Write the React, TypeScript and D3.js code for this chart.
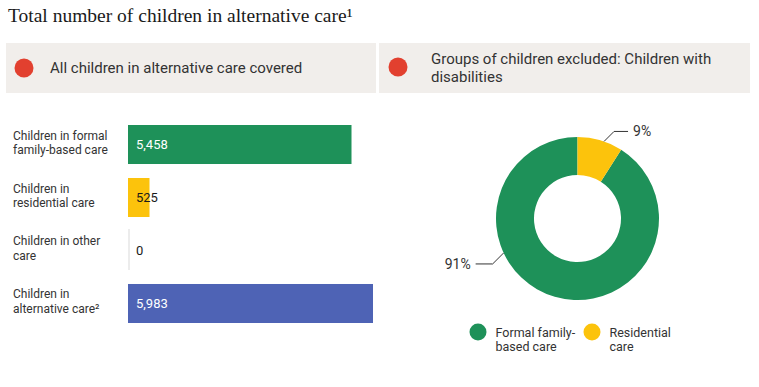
import React from "react";
import * as d3 from "d3";

const titleText = "Total number of children in alternative care¹";
const headerLeft = ["All children in alternative care covered"];
const headerRight = ["Groups of children excluded: Children with", "disabilities"];

const categories = [
  ["Children in formal", "family-based care"],
  ["Children in", "residential care"],
  ["Children in other", "care"],
  ["Children in", "alternative care²"],
];
const barValues = [5458, 525, 0, 5983];
const barValueLabels = ["5,458", "525", "0", "5,983"];

const donutShares = [91, 9];
const donutShareLabels = ["91%", "9%"];
const legendLines = [
  ["Formal family-", "based care"],
  ["Residential", "care"],
];

const GREEN = "#1e9159";
const YELLOW = "#fcc30c";
const BLUE = "#4e63b5";
const RED = "#e2402f";
const BOX = "#f1eeeb";
const TEXT = "#333333";
const barColors = [GREEN, YELLOW, "#d9d9d9", BLUE];
const valueTextColors = ["#ffffff", "#1a1a1a", "#1a1a1a", "#ffffff"];
const donutColors = [GREEN, YELLOW];

const SANS = "Roboto, 'Liberation Sans', Arial, sans-serif";
const SERIF = "'Liberation Serif', 'DejaVu Serif', serif";

export default function App() {
  const W = 759;
  const H = 387;

  const x = d3.scaleLinear().domain([0, d3.max(barValues) as number]).range([128, 373]);
  const y = d3
    .scaleBand<number>()
    .domain(barValues.map((_, i) => i))
    .range([125, 323])
    .paddingInner(0.264)
    .paddingOuter(0);

  const cx = 577.5;
  const cy = 218.5;
  const rOuter = 81.5;
  const rInner = 43.5;
  const pie = d3
    .pie<number>()
    .sort(null)
    .value((d) => d)
    .startAngle((2 * Math.PI * donutShares[1]) / 100)
    .endAngle(2 * Math.PI + (2 * Math.PI * donutShares[1]) / 100);
  const arcs = pie(donutShares);
  const arc = d3.arc<d3.PieArcDatum<number>>().innerRadius(rInner).outerRadius(rOuter);

  // leader label geometry (angle in radians, clockwise from top)
  const leaders = [
    { angle: (245 * Math.PI) / 180, dx: -11, dy: 11, run: -17, anchor: "end" },
    { angle: (19 * Math.PI) / 180 as number | null, dx: 10, dy: -10, run: 14, anchor: "start" },
  ];

  return (
    <svg
      width={W}
      height={H}
      viewBox={`0 0 ${W} ${H}`}
      style={{ position: "absolute", left: 0, top: 0, background: "#fff" }}
    >
      <rect x={0} y={0} width={W} height={H} fill="#fff" />
      {/* Title */}
      <text x={8} y={22} fontFamily={SERIF} fontSize={19.5} fill="#1a1a1a">
        {titleText}
      </text>

      {/* Header boxes */}
      <rect x={6} y={43} width={370} height={50} fill={BOX} />
      <rect x={379} y={43} width={371} height={50} fill={BOX} />
      <circle cx={24} cy={68} r={9.5} fill={RED} />
      <circle cx={398} cy={67} r={9.5} fill={RED} />
      {headerLeft.map((t, i) => (
        <text key={i} x={50} y={72.5} fontFamily={SANS} fontSize={15} fill={TEXT}>
          {t}
        </text>
      ))}
      {headerRight.map((t, i) => (
        <text key={i} x={431} y={64 + i * 17.5} fontFamily={SANS} fontSize={15} fill={TEXT}>
          {t}
        </text>
      ))}

      {/* Bars */}
      {barValues.map((v, i) => {
        const top = y(i) as number;
        const bw = y.bandwidth();
        const c = top + bw / 2;
        return (
          <g key={i}>
            {categories[i].map((line, j) => (
              <text
                key={j}
                x={13}
                y={c - 5 + j * 14.5}
                fontFamily={SANS}
                fontSize={12}
                fill={TEXT}
              >
                {line}
              </text>
            ))}
            {v > 0 ? (
              <rect x={x(0)} y={top} width={x(v) - x(0)} height={bw} fill={barColors[i]} />
            ) : (
              <line
                x1={x(0) + 1}
                x2={x(0) + 1}
                y1={top - 2}
                y2={top + bw}
                stroke={barColors[i]}
                strokeWidth={1}
              />
            )}
            <text
              x={x(0) + 8}
              y={c + 4.5}
              fontFamily={SANS}
              fontSize={13}
              fill={valueTextColors[i]}
            >
              {barValueLabels[i]}
            </text>
          </g>
        );
      })}

      {/* Donut */}
      <g transform={`translate(${cx},${cy})`}>
        {arcs.map((a, i) => (
          <path key={i} d={arc(a) as string} fill={donutColors[i]} />
        ))}
        {arcs.map((a, i) => {
          const L = leaders[i];
          const ang = L.angle !== null ? L.angle : (a.startAngle + a.endAngle) / 2;
          const px = Math.sin(ang) * rOuter;
          const py = -Math.cos(ang) * rOuter;
          const ex = px + L.dx;
          const ey = py + L.dy;
          const hx = ex + L.run;
          const tx = L.anchor === "end" ? hx - 5 : hx + 5;
          return (
            <g key={`l${i}`}>
              <polyline
                points={`${px},${py} ${ex},${ey} ${hx},${ey}`}
                fill="none"
                stroke="#333"
                strokeWidth={1}
              />
              <text
                x={tx}
                y={ey + 5}
                textAnchor={L.anchor as any}
                fontFamily={SANS}
                fontSize={14}
                fill={TEXT}
              >
                {donutShareLabels[i]}
              </text>
            </g>
          );
        })}
      </g>

      {/* Legend */}
      {legendLines.map((lines, i) => {
        const lx = 478 + i * 114;
        return (
          <g key={i}>
            <circle cx={lx} cy={332} r={8.5} fill={donutColors[i]} />
            {lines.map((t, j) => (
              <text
                key={j}
                x={lx + 17.5}
                y={336.5 + j * 14.5}
                fontFamily={SANS}
                fontSize={12.5}
                fill={TEXT}
              >
                {t}
              </text>
            ))}
          </g>
        );
      })}
    </svg>
  );
}
